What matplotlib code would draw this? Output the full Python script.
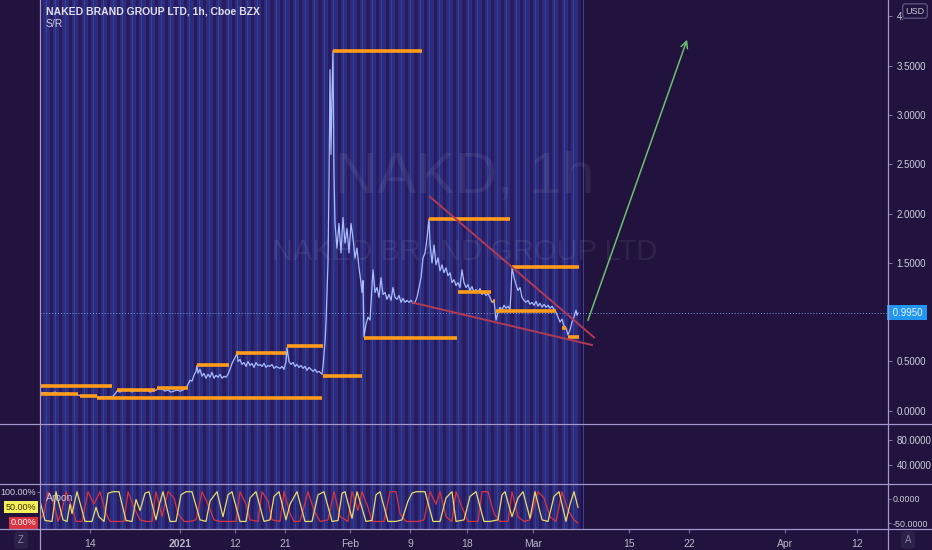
import numpy as np
import matplotlib.pyplot as plt
import matplotlib.transforms as mtransforms
from matplotlib.lines import Line2D

plt.rcParams["font.family"] = ["Liberation Sans", "DejaVu Sans"]
plt.rcParams["font.size"] = 8

W, H = 932, 550
bg = "#21133d"

# time axis (chart position, hourly bars compressed)
tick_pos = [50, 140, 195, 245, 310, 370, 427, 493, 589, 649, 745, 817]
tick_labels = ["14", "2021", "12", "21", "Feb", "9", "18", "Mar", "15", "22", "Apr", "12"]

# NAKD price
t_price = [0, 3, 6, 9, 12, 15, 18, 21, 24, 27, 30, 33, 36, 38, 40, 44, 48, 52, 56, 58, 62, 66, 70, 72,
           75, 77, 80, 83, 86, 89, 92, 95, 98, 101, 104, 107, 110, 113, 116, 119, 122, 125, 128, 131,
           134, 137, 140, 143, 146,
           148, 150, 152, 154, 156, 157, 158,
           160, 162, 164, 166, 168, 170, 172, 174, 176, 178, 180, 182, 184, 186, 188,
           190, 192, 194, 196, 197, 198,
           200, 202, 204, 206, 208, 210, 212, 214, 216, 218, 220, 222, 224, 226, 228, 230, 232, 234,
           236, 238, 240, 242, 244, 246, 247,
           249, 251, 253, 255, 257, 259, 261, 263, 265, 267, 269, 271, 273, 275, 277, 279, 281, 282,
           283, 285, 286, 288, 289, 290, 291, 292, 293, 294, 295,
           297, 299, 301, 303, 305, 307, 309, 311, 313, 315, 317, 319, 321, 322, 323, 324,
           326, 328, 330, 333, 335, 337, 339, 341, 343, 345, 347, 349, 351, 353, 355, 357, 359, 361,
           363, 365, 367, 369, 371, 373, 375,
           377, 379, 381, 383, 385, 387, 389,
           390, 392, 394, 396, 398, 400, 402, 404, 406, 408, 410,
           412, 414, 416, 418, 420, 422, 424, 426, 428, 430, 432, 434, 436, 438, 440, 442, 444, 446,
           448, 450,
           452, 454, 456, 458, 460, 462, 464, 466, 468, 470, 471, 472,
           474, 476, 478, 480, 482, 484, 486, 488, 490, 492, 494, 496, 498, 500, 502, 504, 506, 508,
           510, 512, 514, 516, 518, 520, 522, 524, 526, 528, 530, 532, 534, 536, 537, 538]
price = [0.19, 0.18, 0.185, 0.175, 0.18, 0.19, 0.175, 0.18, 0.17, 0.18, 0.175, 0.17, 0.165, 0.16,
         0.155, 0.15, 0.155, 0.15, 0.145, 0.14, 0.14, 0.14, 0.145, 0.14,
         0.17, 0.2, 0.19, 0.21, 0.2, 0.22, 0.19, 0.21, 0.2, 0.22, 0.2, 0.21, 0.19, 0.2, 0.21, 0.23,
         0.22, 0.2, 0.21, 0.19, 0.2, 0.21, 0.2, 0.21, 0.23,
         0.27, 0.31, 0.3, 0.36, 0.4, 0.46, 0.38,
         0.42, 0.35, 0.38, 0.33, 0.37, 0.34, 0.39, 0.33, 0.36, 0.34, 0.37, 0.33, 0.35, 0.34, 0.37,
         0.42, 0.48, 0.52, 0.56, 0.59, 0.5,
         0.52, 0.47, 0.49, 0.45, 0.5, 0.46, 0.48, 0.44, 0.49, 0.46, 0.47, 0.45, 0.48, 0.44, 0.46,
         0.45, 0.47, 0.43, 0.45, 0.44, 0.43, 0.45, 0.42, 0.5, 0.64,
         0.5, 0.47, 0.49, 0.45, 0.47, 0.44, 0.46, 0.43, 0.45, 0.41, 0.44, 0.42, 0.4, 0.42, 0.39,
         0.4, 0.38, 0.37,
         0.45, 0.7, 0.89, 1.5, 2.3, 3.46, 2.6, 3.2, 3.65, 2.4, 1.9,
         1.65, 1.9, 1.6, 1.96, 1.7, 1.85, 1.6, 1.9, 1.75, 1.55, 1.65, 1.45, 1.3, 1.2, 1.32, 0.75,
         0.88, 0.95, 0.92, 1.43, 1.2, 1.25, 1.15, 1.35, 1.18, 1.2, 1.13, 1.18, 1.12, 1.25, 1.15,
         1.13, 1.17, 1.1, 1.14, 1.1, 1.12, 1.1, 1.12, 1.09, 1.1,
         1.15, 1.25, 1.35, 1.55, 1.6, 1.75, 1.945,
         1.7, 1.5, 1.68, 1.48, 1.55, 1.42, 1.48, 1.4, 1.45, 1.37, 1.4,
         1.3, 1.33, 1.27, 1.3, 1.25, 1.43, 1.3, 1.25, 1.28, 1.22, 1.26, 1.2, 1.23, 1.2, 1.24, 1.18,
         1.2, 1.17, 1.19, 1.15,
         1.1, 1.12, 0.92, 1.0, 1.05, 1.02, 1.07, 1.04, 1.06, 1.03, 1.2, 1.46,
         1.35, 1.28, 1.22, 1.25, 1.15, 1.12, 1.1, 1.12, 1.08, 1.1, 1.07, 1.11, 1.06, 1.09, 1.05,
         1.08, 1.05, 1.07, 1.04, 1.06, 1.03, 1.0, 0.95, 0.9, 0.93, 0.86, 0.84, 0.77, 0.82, 0.9,
         0.95, 1.02, 0.97, 0.99]

# S/R levels (orange)
sr_start = [0, 0, 40, 57, 77, 117, 157, 196, 247, 283, 293, 324, 389, 418, 453, 456, 472, 522, 528]
sr_end = [72, 38, 57, 282, 115, 148, 189, 246, 283, 322, 382, 417, 470, 451, 455, 516, 539, 526, 539]
sr_price = [0.25, 0.167, 0.15, 0.133, 0.21, 0.235, 0.465, 0.59, 0.657, 0.353, 3.646, 0.738,
            1.945, 1.20, 1.11, 1.01, 1.461, 0.84, 0.748]

# wedge lines and projection arrow
wedge_top_t = [390, 554]
wedge_top_p = [2.17, 0.745]
wedge_low_t = [373, 552]
wedge_low_p = [1.096, 0.667]
arrow_t = [547, 648]
arrow_p = [0.89, 3.79]
last_price = 0.995

# price scale labels (1.0 is hidden by the last price tag, 4.0 by the USD badge)
price_ticks = [0, 0.5, 1.5, 2.0, 2.5, 3.0, 3.5, 4.0]
price_tick_labels = ["0.0000", "0.5000", "1.5000", "2.0000", "2.5000", "3.0000", "3.5000", "4."]

# Aroon up / down
up_t = [0, 5, 12, 16, 23, 27, 30, 32, 37, 45, 52, 56, 59, 64, 68, 73, 79, 86, 92, 96, 100, 105,
        109, 116, 119, 123, 130, 136, 141, 146, 152, 160, 166, 170, 177, 183, 188, 192, 200, 206,
        210, 216, 224, 230, 234, 239, 246, 250, 257, 265, 272, 278, 284, 292, 298, 302, 305, 312,
        317, 326, 332, 336, 340, 348, 356, 362, 368, 372, 376, 382, 385, 393, 400, 406, 412, 416,
        424, 430, 436, 444, 450, 458, 462, 465, 472, 478, 483, 490, 495, 502, 508, 514, 519, 526,
        530, 534, 538]
up_v = [70, 8, 5, 100, 10, 5, 60, 30, 100, 5, 5, 50, 20, 5, 95, 100, 100, 8, 5, 75, 40, 95,
        100, 10, 55, 100, 5, 5, 90, 100, 100, 10, 5, 70, 100, 20, 90, 100, 5, 5, 80, 100, 5, 10,
        85, 100, 10, 60, 100, 5, 5, 90, 100, 5, 8, 95, 100, 15, 100, 5, 8, 90, 100, 5, 5, 10, 70,
        95, 100, 100, 100, 5, 5, 80, 100, 5, 10, 85, 100, 5, 5, 10, 90, 100, 20, 80, 100, 15, 100,
        10, 5, 85, 100, 5, 60, 100, 50]
dn_t = [0, 4, 8, 14, 18, 22, 26, 32, 36, 42, 48, 54, 60, 66, 70, 78, 84, 88, 94, 100, 106, 112,
        116, 122, 128, 134, 138, 144, 150, 156, 162, 168, 174, 180, 186, 196, 200, 206, 210, 218,
        222, 228, 232, 240, 244, 250, 254, 260, 268, 274, 280, 288, 294, 300, 308, 312, 318, 322,
        328, 332, 344, 350, 356, 360, 366, 372, 378, 384, 390, 396, 400, 406, 412, 416, 422, 428,
        438, 442, 448, 454, 460, 468, 472, 478, 484, 490, 498, 504, 510, 516, 522, 528, 534, 538]
dn_v = [10, 30, 100, 60, 5, 40, 100, 50, 5, 5, 100, 60, 100, 30, 5, 5, 5, 100, 50, 10, 5, 5,
        100, 20, 100, 80, 30, 5, 5, 10, 100, 60, 10, 5, 5, 5, 100, 60, 10, 5, 100, 70, 10, 5,
        100, 30, 5, 5, 100, 40, 5, 10, 100, 20, 5, 100, 40, 100, 50, 5, 5, 100, 100, 30, 5, 5,
        5, 10, 100, 60, 100, 20, 5, 100, 50, 5, 5, 100, 100, 30, 5, 5, 100, 20, 5, 10, 100, 80,
        20, 5, 100, 40, 10, 0]

# session shading positions (background stripes)
stripe_pos = np.arange(0, 540, 9.6)


def rect(x0, y0, x1, y1):
    return [x0 / W, 1 - y1 / H, (x1 - x0) / W, (y1 - y0) / H]


fig = plt.figure(figsize=(W / 100, H / 100), dpi=100)
fig.patch.set_facecolor(bg)

ax1 = fig.add_axes(rect(40, 0, 888, 424))
ax2 = fig.add_axes(rect(40, 424, 888, 484), sharex=ax1)
ax3 = fig.add_axes(rect(40, 484, 888, 529), sharex=ax1)
ax3r = ax3.twinx()

lab_col = "#cfcfe0"
tick_col = "#7a70a0"
lab_size = 7
for ax in (ax1, ax2, ax3, ax3r):
    ax.set_facecolor(bg)
    for s in ax.spines.values():
        s.set_visible(False)
ax3.set_zorder(ax3r.get_zorder() + 1)
ax3.patch.set_visible(False)
ax3r.patch.set_visible(True)

for ax in (ax1, ax2, ax3r):
    ax.axvspan(0, 540, color="#2b2d7c", lw=0, zorder=0)
    for s in stripe_pos:
        ax.axvspan(s, s + 3.2, color="#2a1a5e", lw=0, zorder=0)
        ax.axvspan(s + 5.5, s + 6.5, color="#3540a0", lw=0, zorder=0)

ax1.set_xlim(0, 848)

# main price pane
ax1.set_ylim(-0.134, 4.166)
ax1.text(425, 2.37, "NAKD, 1h", ha="center", va="center", fontsize=42,
         color="white", alpha=0.07, zorder=1)
ax1.text(425, 1.61, "NAKED BRAND GROUP LTD", ha="center", va="center", fontsize=21,
         color="white", alpha=0.07, zorder=1)
ax1.axhline(last_price, color="#7f9be0", lw=0.7, ls=(0, (1, 2)), zorder=2)
ax1.plot(t_price, price, color="#a9bcff", lw=0.9, zorder=3)
ax1.hlines(sr_price, sr_start, sr_end, color="#ff9c1a", lw=2.6, zorder=4)
ax1.plot(wedge_top_t, wedge_top_p, color="#b03a55", lw=1.4, zorder=5)
ax1.plot(wedge_low_t, wedge_low_p, color="#b03a55", lw=1.4, zorder=5)
ax1.annotate("", xy=(arrow_t[1], arrow_p[1]), xytext=(arrow_t[0], arrow_p[0]),
             arrowprops=dict(arrowstyle="->", color="#6cc070", lw=1.1, mutation_scale=12),
             zorder=5)
ax1.yaxis.tick_right()
ax1.set_yticks(price_ticks)
ax1.set_yticklabels(price_tick_labels)
ax1.tick_params(axis="y", length=3, color=tick_col, labelcolor=lab_col, labelsize=lab_size, pad=3)
ax1.tick_params(axis="x", length=0, labelbottom=False)

blend = mtransforms.blended_transform_factory(ax1.transAxes, ax1.transData)
ax1.text(1.002, last_price, " 0.9950 ", transform=blend, ha="left", va="center",
         fontsize=lab_size, color="#eaf4ff",
         bbox=dict(facecolor="#2196f3", edgecolor="none", pad=1.6), zorder=6, clip_on=False)

# second pane (empty scale)
ax2.set_ylim(9.6, 105.6)
ax2.yaxis.tick_right()
ax2.set_yticks([40, 80])
ax2.set_yticklabels(["40.0000", "80.0000"])
ax2.tick_params(axis="y", length=3, color=tick_col, labelcolor=lab_col, labelsize=lab_size, pad=3)
ax2.tick_params(axis="x", length=0, labelbottom=False)

# Aroon pane
ax3.set_ylim(-19.2, 124.6)
ax3.plot(dn_t, dn_v, color="#d9333f", lw=0.9, zorder=3)
ax3.plot(up_t, up_v, color="#e8dc6a", lw=0.9, zorder=4)
ax3.set_yticks([100])
ax3.set_yticklabels(["100.00%"])
ax3.tick_params(axis="y", length=2, color=tick_col, labelcolor=lab_col, labelsize=6.5, pad=1)
ax3.set_xticks(tick_pos)
ax3.set_xticklabels(tick_labels)
ax3.tick_params(axis="x", length=3, color=tick_col, labelcolor="#b8b6c8", labelsize=7.5, pad=4)
for lbl in ax3.get_xticklabels():
    if lbl.get_text() == "2021":
        lbl.set_fontweight("bold")
lblend = mtransforms.blended_transform_factory(ax3.transAxes, ax3.transData)
ax3.text(-0.004, 50, "50.00%", transform=lblend, ha="right", va="center", fontsize=6.5,
         color="#3a3000", bbox=dict(facecolor="#f5ef5a", edgecolor="none", pad=1.2),
         clip_on=False)
ax3.text(-0.004, 0, "0.00%", transform=lblend, ha="right", va="center", fontsize=6.5,
         color="#ffffff", bbox=dict(facecolor="#d9333f", edgecolor="none", pad=1.2),
         clip_on=False)
ax3.text(0.007, 0.68, "Aroon", transform=ax3.transAxes, fontsize=7.5, color="#c8c6d8",
         va="center", zorder=6)

ax3r.set_ylim(-61.5, 30.7)
ax3r.set_yticks([-50, 0])
ax3r.set_yticklabels(["-50.0000", "0.0000"])
ax3r.tick_params(axis="y", length=2, color=tick_col, labelcolor=lab_col, labelsize=6.4, pad=1.5)

# pane separators and scale borders
sep = "#a497cc"
for yp in (424, 484, 529):
    fig.add_artist(Line2D([0, 1], [1 - yp / H] * 2, color=sep, lw=0.9))
for xp in (40, 888):
    fig.add_artist(Line2D([xp / W] * 2, [0, 1], color=sep, lw=0.9))

# header texts and corner buttons
fig.text(46 / W, 1 - 11 / H, "NAKED BRAND GROUP LTD, 1h, Cboe BZX", fontsize=7.5,
         color="#e0e0ee", fontweight="bold", va="center")
fig.text(46 / W, 1 - 24 / H, "S/R", fontsize=7.5, color="#d0d0e0", va="center")
fig.text(915 / W, 1 - 11 / H, "USD", fontsize=6.5, color="#c8c8d8", ha="center", va="center",
         bbox=dict(facecolor=bg, edgecolor="#5a4f80", boxstyle="round,pad=0.3"))
fig.text(21 / W, 1 - 540 / H, "Z", fontsize=7, color="#8a80a8", ha="center", va="center",
         bbox=dict(facecolor="#2c2148", edgecolor="none", boxstyle="round,pad=0.4"))
fig.text(908 / W, 1 - 540 / H, "A", fontsize=7, color="#8a80a8", ha="center", va="center",
         bbox=dict(facecolor="#2c2148", edgecolor="none", boxstyle="round,pad=0.4"))

fig.savefig("out.png", dpi=100, facecolor=bg)
